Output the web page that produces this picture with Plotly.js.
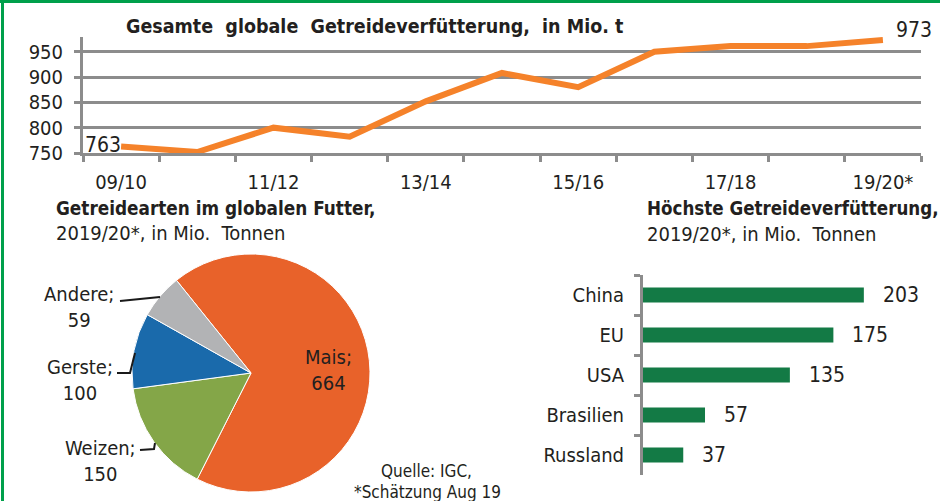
<!DOCTYPE html>
<html>
<head>
<meta charset="utf-8">
<script src="https://cdn.plot.ly/plotly-3.0.1.min.js"></script>
<style>
html,body{margin:0;padding:0;background:#fff;}
#chart{width:940px;height:501px;}
</style>
</head>
<body>
<div id="chart"></div>
<script>
// ---- Data ----
const seasons = ['09/10','10/11','11/12','12/13','13/14','14/15','15/16','16/17','17/18','18/19','19/20*'];
const feedTotal = [763, 752, 800, 782, 852, 908, 880, 950, 961, 961, 973];
const seasonTickText = ['09/10','','11/12','','13/14','','15/16','','17/18','','19/20*'];

const grainTypes = ['Mais','Weizen','Gerste','Andere'];
const grainValues = [664, 150, 100, 59];

const countries = ['China','EU','USA','Brasilien','Russland'];
const countryValues = [203, 175, 135, 57, 37];

// ---- Helpers (pixel -> paper) ----
const W = 940, H = 501;
const px = x => x / W;
const py = y => 1 - y / H;

const FONT = '"DejaVu Sans Condensed", "Liberation Sans", Arial, sans-serif';
const TXT = '#231F20';
const GRID = '#8C8C8C';

const traces = [
  {
    type: 'scatter', mode: 'lines',
    x: seasons, y: feedTotal,
    line: {color: '#F5822A', width: 6},
    xaxis: 'x', yaxis: 'y', hoverinfo: 'skip'
  },
  {
    type: 'pie',
    labels: grainTypes, values: grainValues,
    sort: false, direction: 'clockwise', rotation: -38.8,
    marker: {colors: ['#E8622A','#84A648','#1A6AAB','#B2B3B5'], line: {color: '#ffffff', width: 1}},
    textinfo: 'none', hoverinfo: 'skip', showlegend: false,
    domain: {x: [px(132), px(370)], y: [py(492), py(254)]}
  },
  {
    type: 'bar', orientation: 'h',
    x: countryValues, y: countries,
    marker: {color: '#137A45'},
    width: 0.38,
    xaxis: 'x2', yaxis: 'y2', hoverinfo: 'skip'
  }
];

const annotations = [];
// titles
annotations.push({xref:'paper', yref:'paper', x:px(124), y:py(27), xanchor:'left', yanchor:'middle', showarrow:false,
  text:'<b>Gesamte  globale  Getreideverfütterung,  in Mio. t</b>', font:{family:FONT, size:19.5, color:TXT}});
annotations.push({xref:'paper', yref:'paper', x:px(54), y:py(208), xanchor:'left', yanchor:'middle', showarrow:false,
  text:'<b>Getreidearten im globalen Futter,</b>', font:{family:FONT, size:18.8, color:TXT}});
annotations.push({xref:'paper', yref:'paper', x:px(54), y:py(233), xanchor:'left', yanchor:'middle', showarrow:false,
  text:'2019/20*, in Mio.  Tonnen', font:{family:FONT, size:20, color:TXT}});
annotations.push({xref:'paper', yref:'paper', x:px(645), y:py(208), xanchor:'left', yanchor:'middle', showarrow:false,
  text:'<b>Höchste Getreideverfütterung,</b>', font:{family:FONT, size:18.6, color:TXT}});
annotations.push({xref:'paper', yref:'paper', x:px(645), y:py(234), xanchor:'left', yanchor:'middle', showarrow:false,
  text:'2019/20*, in Mio.  Tonnen', font:{family:FONT, size:20, color:TXT}});
annotations.push({xref:'paper', yref:'paper', x:px(426), y:py(471), xanchor:'center', yanchor:'middle', showarrow:false,
  text:'Quelle: IGC,', font:{family:FONT, size:17, color:TXT}});
annotations.push({xref:'paper', yref:'paper', x:px(427), y:py(492), xanchor:'center', yanchor:'middle', showarrow:false,
  text:'*Schätzung Aug 19', font:{family:FONT, size:17, color:TXT}});

// line end labels
annotations.push({xref:'x', yref:'y', x:seasons[0], y:feedTotal[0], xanchor:'right', yanchor:'middle', xshift:2, yshift:1,
  showarrow:false, text:String(feedTotal[0]), font:{family:FONT, size:21, color:TXT}});
const last = seasons.length - 1;
annotations.push({xref:'x', yref:'y', x:seasons[last], y:feedTotal[last], xanchor:'left', yanchor:'middle', xshift:11, yshift:10,
  showarrow:false, text:String(feedTotal[last]), font:{family:FONT, size:21, color:TXT}});

// pie labels
const pieLabelPos = [[328, 370], [100, 461], [80, 380], [79, 307]];
grainTypes.forEach((g, i) => {
  annotations.push({xref:'paper', yref:'paper', x:px(pieLabelPos[i][0]), y:py(pieLabelPos[i][1]), xanchor:'center', yanchor:'middle',
    showarrow:false, align:'center', text:g + ';<br>' + grainValues[i], font:{family:FONT, size:20, color:TXT}});
});

// bar value labels
countries.forEach((c, i) => {
  annotations.push({xref:'x2', yref:'y2', x:countryValues[i], y:c, xanchor:'left', yanchor:'middle', xshift:17,
    showarrow:false, text:String(countryValues[i]), font:{family:FONT, size:21, color:TXT}});
});

const pth = pts => pts.map((p, i) => (i ? 'L' : 'M') + px(p[0]) + ',' + py(p[1])).join(' ');
const shapes = [
  // frame (left & top)
  {type:'line', xref:'paper', yref:'paper', x0:px(2.5), x1:px(2.5), y0:0, y1:1, line:{color:'#00A04B', width:3}},
  {type:'line', xref:'paper', yref:'paper', x0:0, x1:1, y0:py(1.5), y1:py(1.5), line:{color:'#00A04B', width:3}},
  // leader lines
  {type:'path', xref:'paper', yref:'paper', path:pth([[120,301],[160,297]]), line:{color:'#1a1a1a', width:2}},
  {type:'path', xref:'paper', yref:'paper', path:pth([[117,373],[130,373],[135,353]]), line:{color:'#1a1a1a', width:2}},
  {type:'path', xref:'paper', yref:'paper', path:pth([[140,450],[154,449],[155,443]]), line:{color:'#1a1a1a', width:2}}
];

const layout = {
  width: W, height: H,
  margin: {l:0, r:0, t:0, b:0},
  paper_bgcolor: '#ffffff', plot_bgcolor: 'rgba(0,0,0,0)',
  showlegend: false,
  font: {family: FONT, color: TXT},
  xaxis: {
    domain: [px(83), px(921)], type: 'category', range: [-0.5, 10.5],
    tickmode: 'array', tickvals: seasons, ticktext: seasonTickText,
    tickson: 'boundaries', ticks: 'outside', ticklen: 6, tickwidth: 3, tickcolor: GRID,
    showline: true, linecolor: GRID, linewidth: 3,
    showgrid: false, zeroline: false, fixedrange: true,
    tickfont: {family: FONT, size: 20, color: TXT}, ticklabelstandoff: 9
  },
  yaxis: {
    domain: [py(153), py(37)], range: [750, 979],
    tickmode: 'array', tickvals: [750, 800, 850, 900, 950],
    ticks: 'outside', ticklen: 6, tickwidth: 3, tickcolor: GRID,
    showline: true, linecolor: GRID, linewidth: 3,
    showgrid: true, gridcolor: GRID, gridwidth: 3, zeroline: false, fixedrange: true,
    tickfont: {family: FONT, size: 20, color: TXT}, ticklabelstandoff: 7
  },
  xaxis2: {
    domain: [px(643), 1], range: [0, 273], anchor: 'y2',
    visible: false, fixedrange: true
  },
  yaxis2: {
    domain: [py(475), py(275)], anchor: 'x2', type: 'category',
    autorange: 'reversed',
    tickson: 'boundaries', ticks: 'outside', ticklen: 6, tickwidth: 3, tickcolor: GRID,
    showline: true, linecolor: GRID, linewidth: 3,
    showgrid: false, zeroline: false, fixedrange: true,
    tickfont: {family: FONT, size: 20, color: TXT}, ticklabelstandoff: 12
  },
  annotations: annotations,
  shapes: shapes
};

Plotly.newPlot('chart', traces, layout, {displayModeBar: false, staticPlot: true});
</script>
</body>
</html>
